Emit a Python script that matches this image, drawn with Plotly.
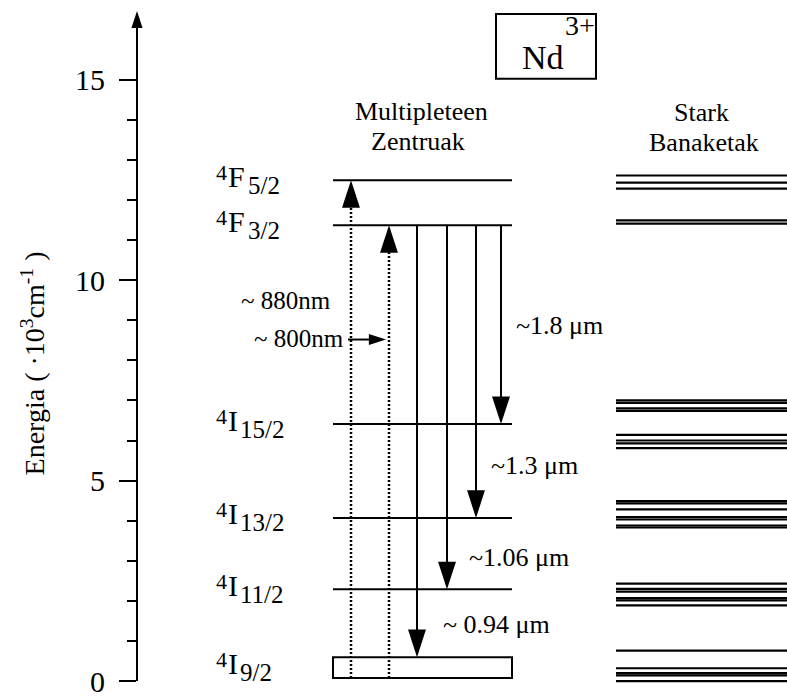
import plotly.graph_objects as go

# ---------------- data ----------------
level_L = ["F", "F", "I", "I", "I", "I"]
level_J = ["5/2", "3/2", "15/2", "13/2", "11/2", "9/2"]
level_energy = [12.49, 11.37, 6.41, 4.07, 2.29, 0.335]   # 10^3 cm^-1
ground_band = [0.075, 0.596]                              # 4I9/2 band limits

pump_labels = ["~ 880nm", "~ 800nm"]
pump_target = [0, 1]            # index into levels

emission_labels = ["~ 0.94 \u03bcm", "~1.06 \u03bcm", "~1.3 \u03bcm", "~1.8 \u03bcm"]
emission_source = 1
emission_target = [5, 4, 3, 2]

stark_levels = [
    [12.61, 12.43, 12.28],                                  # 4F5/2
    [11.49, 11.41],                                         # 4F3/2
    [7.00, 6.94, 6.80, 6.74, 6.14, 6.00, 5.93, 5.81],       # 4I15/2
    [4.49, 4.43, 4.28, 4.09, 4.03, 3.88, 3.83],             # 4I13/2
    [2.43, 2.30, 2.23, 2.07, 2.01, 1.89],                   # 4I11/2
    [0.76, 0.32, 0.20, 0.14, 0.0],                          # 4I9/2
]

ytick_vals = [0, 5, 10, 15]
ytick_text = ["0", "5", "10", "15"]
yminor_vals = [1, 2, 3, 4, 6, 7, 8, 9, 11, 12, 13, 14]

# ---------------- layout helpers ----------------
W, H = 787, 698
PX_UNIT = 40.267
Y0_PX = 684
AX_LEFT = 137
FONT = "Liberation Serif, Times New Roman, Times, serif"


def e(py):
    return (Y0_PX - py) / PX_UNIT


def lvl_py(E):
    return Y0_PX - E * PX_UNIT


LEVEL_X = (333, 512)
STARK_X = (616, 787)
PUMP_X = [351, 389]
EMIT_X = [417, 447, 476, 501]

fig = go.Figure()

# multiplet centre lines (except ground which is a band)
xs, ys = [], []
for E in level_energy[:-1]:
    xs += [LEVEL_X[0], LEVEL_X[1], None]
    ys += [E, E, None]
fig.add_trace(go.Scatter(x=xs, y=ys, mode="lines",
                         line=dict(color="black", width=2), hoverinfo="skip"))

fig.add_shape(type="rect", xref="x", yref="y",
              x0=LEVEL_X[0], x1=LEVEL_X[1], y0=ground_band[0], y1=ground_band[1],
              line=dict(color="black", width=2), fillcolor="rgba(0,0,0,0)")

# Stark lines
xs, ys = [], []
for grp in stark_levels:
    for E in grp:
        xs += [STARK_X[0], STARK_X[1], None]
        ys += [E, E, None]
fig.add_trace(go.Scatter(x=xs, y=ys, mode="lines",
                         line=dict(color="black", width=2.2), hoverinfo="skip"))

# pump (dotted, up)
for i, t in enumerate(pump_target):
    top = level_energy[t]
    fig.add_trace(go.Scatter(x=[PUMP_X[i], PUMP_X[i]], y=[ground_band[0], top - 0.3],
                             mode="lines", line=dict(color="black", width=2.5, dash="2px,2px"),
                             hoverinfo="skip"))
    fig.add_trace(go.Scatter(x=[PUMP_X[i]], y=[top], mode="markers", cliponaxis=False,
                             marker=dict(symbol="arrow", size=29, angle=0, color="black",
                                         line=dict(width=0)), hoverinfo="skip"))

# emission (solid, down)
src = level_energy[emission_source]
for i, t in enumerate(emission_target):
    bot = ground_band[1] if t == len(level_energy) - 1 else level_energy[t]
    fig.add_trace(go.Scatter(x=[EMIT_X[i], EMIT_X[i]], y=[src, bot + 0.3],
                             mode="lines", line=dict(color="black", width=2), hoverinfo="skip"))
    fig.add_trace(go.Scatter(x=[EMIT_X[i]], y=[bot], mode="markers", cliponaxis=False,
                             marker=dict(symbol="arrow", size=29, angle=180, color="black",
                                         line=dict(width=0)), hoverinfo="skip"))

# small horizontal pointer for 800 nm
fig.add_trace(go.Scatter(x=[348, 372], y=[e(341), e(341)], mode="lines",
                         line=dict(color="black", width=2), hoverinfo="skip"))
fig.add_trace(go.Scatter(x=[386], y=[e(341)], mode="markers",
                         marker=dict(symbol="arrow", size=18, angle=90, color="black",
                                     line=dict(width=0)), hoverinfo="skip"))

# y axis line with arrow head
fig.add_shape(type="line", xref="paper", yref="y", x0=0, x1=0, y0=0, y1=e(22),
              line=dict(color="black", width=2))
fig.add_trace(go.Scatter(x=[AX_LEFT], y=[e(11)], mode="markers", cliponaxis=False,
                         marker=dict(symbol="arrow", size=18, angle=0, color="black",
                                     line=dict(width=0)), hoverinfo="skip"))

annotations = []

# Nd3+ box
fig.add_shape(type="rect", xref="x", yref="y", x0=496, x1=596, y0=e(79), y1=e(14),
              line=dict(color="black", width=2))
annotations.append(dict(x=543, y=e(58), text="Nd", showarrow=False,
                        font=dict(family=FONT, size=34, color="black")))
annotations.append(dict(x=580, y=e(26), text="3+", showarrow=False,
                        font=dict(family=FONT, size=28, color="black")))

# headers
for txt, x, py in [("Multipleteen", 421, 112), ("Zentruak", 418, 142),
                   ("Stark", 701, 113), ("Banaketak", 704, 143)]:
    annotations.append(dict(x=x, y=e(py), text=txt, showarrow=False,
                            font=dict(family=FONT, size=26, color="black")))

# level labels
for i, (L, J, E) in enumerate(zip(level_L, level_J, level_energy)):
    py = lvl_py(E)
    annotations.append(dict(x=214, y=e(py - 8), xanchor="left", showarrow=False,
                            text="4", font=dict(family=FONT, size=22, color="black")))
    annotations.append(dict(x=226, y=e(py - 4), xanchor="left", showarrow=False,
                            text=L, font=dict(family=FONT, size=30, color="black")))
    xs_sub = 246 if L == "F" else 238
    annotations.append(dict(x=xs_sub, y=e(py + 5), xanchor="left", showarrow=False,
                            text=J, font=dict(family=FONT, size=25, color="black")))

# transition labels
pump_pos = [(239, 302), (252, 340)]
for txt, (x, py) in zip(pump_labels, pump_pos):
    annotations.append(dict(x=x, y=e(py), xanchor="left", showarrow=False, text=txt,
                            font=dict(family=FONT, size=25, color="black")))
emit_pos = [(441, 627), (467, 560), (489, 468), (514, 327)]
for txt, (x, py) in zip(emission_labels, emit_pos):
    annotations.append(dict(x=x, y=e(py), xanchor="left", showarrow=False, text=txt,
                            font=dict(family=FONT, size=26, color="black")))

# axis title
annotations.append(dict(xref="paper", yref="y", x=(33 - AX_LEFT) / (W - AX_LEFT), y=e(365),
                        xanchor="center", yanchor="middle",
                        text="Energia ( \u00b710<sup>3</sup>cm<sup>-1</sup> )", textangle=-90,
                        showarrow=False, font=dict(family=FONT, size=28, color="black")))

fig.update_layout(
    width=W, height=H,
    margin=dict(l=AX_LEFT, r=0, t=0, b=0),
    paper_bgcolor="white", plot_bgcolor="white",
    showlegend=False,
    annotations=annotations,
    xaxis=dict(range=[AX_LEFT, W], visible=False, fixedrange=True),
    yaxis=dict(range=[e(H), e(0)], tickmode="array", tickvals=ytick_vals, ticktext=ytick_text,
               ticks="outside", ticklen=17, tickwidth=2, tickcolor="black",
               showline=False, showgrid=False, zeroline=False,
               tickfont=dict(family=FONT, size=30, color="black"), ticklabelstandoff=8,
               ticklabeloverflow="allow",
               minor=dict(tickmode="array", tickvals=yminor_vals, ticks="outside", ticklen=9,
                          tickwidth=2, tickcolor="black", showgrid=False),
               fixedrange=True),
)

fig.write_html("out.html")
